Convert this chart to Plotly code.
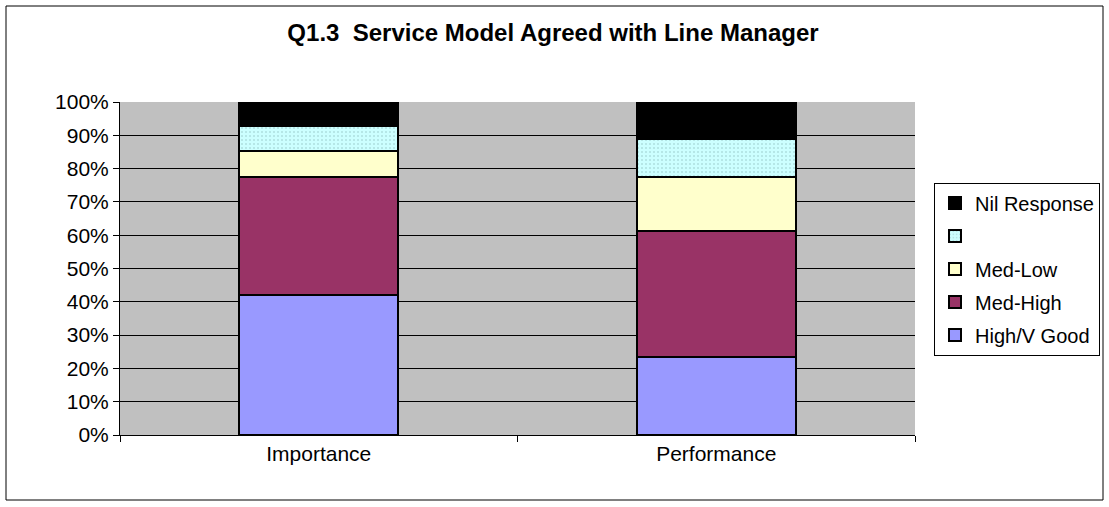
import plotly.graph_objects as go

categories = ["Importance", "Performance"]
series_names = ["High/V Good", "Med-High", "Med-Low", "", "Nil Response"]
high_vgood = [41.9, 23.4]
med_high = [35.6, 37.8]
med_low = [7.8, 16.3]
blank = [7.5, 11.3]
nil_response = [7.2, 11.2]
y_ticks = [0, 10, 20, 30, 40, 50, 60, 70, 80, 90, 100]
y_tick_labels = [f"{v}%" for v in y_ticks]

values = [high_vgood, med_high, med_low, blank, nil_response]
colors = ["#9999FF", "#993366", "#FFFFCC", "#CCFFFF", "#000000"]

fig = go.Figure()
for i, (name, vals, col) in enumerate(zip(series_names, values, colors)):
    marker = dict(color=col, line=dict(color="black", width=2))
    if name == "":
        marker["pattern"] = dict(shape=".", fgcolor="#8FBFBF", bgcolor="#CCFFFF", size=4, solidity=0.2)
    fig.add_trace(go.Bar(x=categories, y=vals, name=name if name else " ", marker=marker, width=0.4,
                         legendgroup=f"g{i}", legendrank=1000 - i))

W0, H0 = 1109, 507
L, R, T, B = 120, 194, 102, 72
pw, ph = W0 - L - R, H0 - T - B

def px_x(p):
    return (p - L) / pw

def px_y(p):
    return (H0 - B - p) / ph

FS = 21
fig.update_layout(
    width=W0, height=H0,
    barmode="stack",
    margin=dict(l=L, r=R, t=T, b=B, autoexpand=False),
    paper_bgcolor="white",
    plot_bgcolor="#C0C0C0",
    font=dict(family="Arial, Liberation Sans", size=FS, color="black"),
    title=dict(text="<b>Q1.3  Service Model Agreed with Line Manager</b>", x=553 / W0, xanchor="center",
               xref="container", y=1 - 33 / H0, yanchor="middle", font=dict(size=24)),
    legend=dict(traceorder="grouped", x=px_x(934), y=px_y(269), xanchor="left", yanchor="middle",
                bordercolor="black", borderwidth=1, bgcolor="white", font=dict(size=20),
                tracegroupgap=4, itemwidth=30),
    showlegend=True,
    bargap=0.6,
    xaxis=dict(showline=True, linecolor="black", linewidth=1, ticks="outside", tickson="boundaries",
               ticklen=6, tickcolor="black", showgrid=False, mirror=False),
    yaxis=dict(range=[0, 100], tickvals=y_ticks, ticktext=y_tick_labels, showline=True, linecolor="black",
               ticks="outside", ticklen=6, tickcolor="black", showgrid=True, gridcolor="black", gridwidth=1,
               zeroline=False),
    shapes=[dict(type="rect", xref="paper", yref="paper", x0=px_x(6), x1=px_x(1103), y0=px_y(500), y1=px_y(6),
                 line=dict(color="black", width=1), fillcolor="rgba(0,0,0,0)", layer="below")],
)

fig.write_html("out.html", config={"displayModeBar": False},
               post_script="document.body.style.margin='0';document.body.style.overflow='hidden';")
